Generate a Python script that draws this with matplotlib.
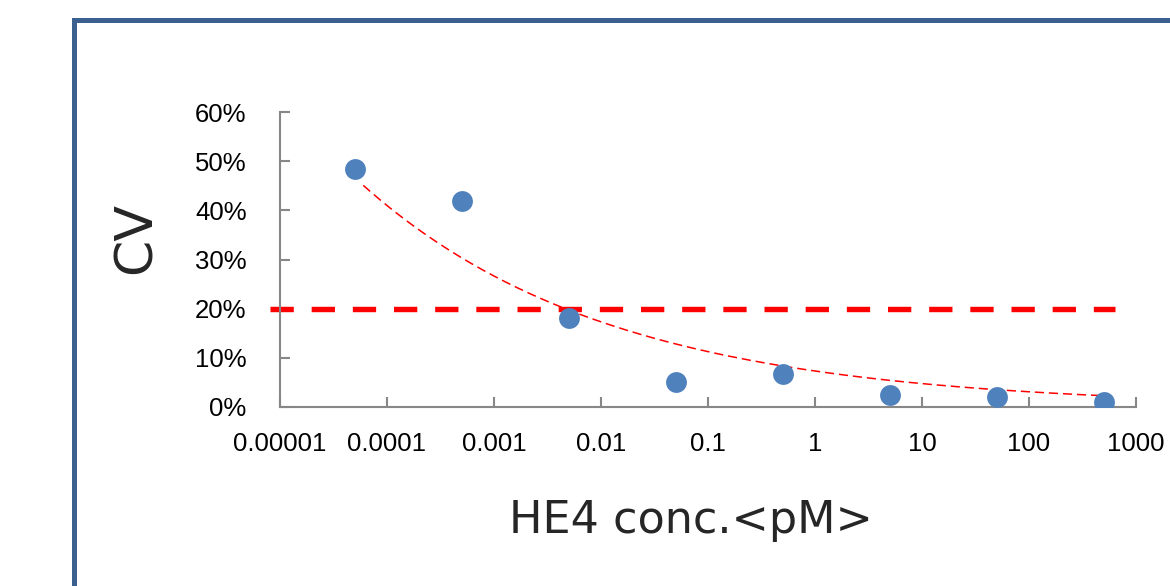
# Script recreating the HE4 CV-vs-concentration chart.
import numpy as np
import matplotlib.pyplot as plt
from matplotlib.lines import Line2D


# Concentrations of the dilution series (pM) and the measured CV of each.
conc = [0.00005, 0.0005, 0.005, 0.05, 0.5, 5, 50, 500]
cv = [0.484, 0.420, 0.181, 0.050, 0.067, 0.024, 0.021, 0.010]

# Power trendline: cv = coef * conc ** power.
trend_coef = 0.0732
trend_power = -0.187
trend_range = [6e-5, 570]

# The 20% acceptance limit and how far it is drawn.
limit_cv = 0.20
limit_range = [8.1e-6, 640]

# Tick positions and labels.
x_ticks = [0.00001, 0.0001, 0.001, 0.01, 0.1, 1, 10, 100, 1000]
x_labels = ["0.00001", "0.0001", "0.001", "0.01", "0.1", "1", "10", "100", "1000"]
y_ticks = [0, 0.1, 0.2, 0.3, 0.4, 0.5, 0.6]
y_labels = ["0%", "10%", "20%", "30%", "40%", "50%", "60%"]


fig = plt.figure(figsize=(11.7, 5.86), dpi=100)
ax = fig.add_axes([280 / 1170, 1 - 407 / 586, (1136 - 280) / 1170, (407 - 112) / 586])

grey = "#878787"

# Acceptance limit, drawn past the left edge of the axes as in the original.
ax.plot(limit_range, [limit_cv, limit_cv], color="#ff0000", linewidth=3.9,
        dashes=(4.3, 3.3), solid_capstyle="butt", dash_capstyle="butt",
        clip_on=False, zorder=2)

# The trendline.
trend_x = np.logspace(np.log10(trend_range[0]), np.log10(trend_range[1]), 200)
trend_y = trend_coef * trend_x ** trend_power
ax.plot(trend_x, trend_y, color="#ff0000", linewidth=1.1, dashes=(6, 3.2), zorder=3)

# The measured points.
ax.plot(conc, cv, linestyle="none", marker="o", markersize=15,
        color="#4f81bd", markeredgewidth=0, zorder=4)

ax.set_xscale("log")
ax.set_xlim(x_ticks[0], x_ticks[-1])
ax.set_ylim(0, 0.6)
ax.set_xticks(x_ticks)
ax.set_xticklabels(x_labels)
ax.set_yticks(y_ticks)
ax.set_yticklabels(y_labels)
ax.minorticks_off()

for side in ["top", "right"]:
    ax.spines[side].set_visible(False)
for side in ["left", "bottom"]:
    ax.spines[side].set_color(grey)
    ax.spines[side].set_linewidth(1.5)

ax.tick_params(axis="both", direction="in", length=7, width=1.5, color=grey)
ax.tick_params(axis="x", pad=18)
ax.tick_params(axis="y", pad=24)
for label in ax.get_xticklabels() + ax.get_yticklabels():
    label.set_family("Liberation Sans")
    label.set_fontsize(18.5)
    label.set_color("black")

# Axis titles placed in figure coordinates.
fig.text(137 / 1170, 1 - 238 / 586, "CV", rotation=90, fontsize=37.5,
         ha="center", va="center", color="#262626", family="DejaVu Sans")
fig.text(691 / 1170, 1 - 533 / 586, "HE4 conc.<pM>", fontsize=32,
         ha="center", va="baseline", color="#262626", family="DejaVu Sans")

# Blue frame of the slide, running off the right and bottom edges.
frame = Line2D([73.5 / 1170, 73.5 / 1170, 1.01], [-0.01, 1 - 20 / 586, 1 - 20 / 586],
               transform=fig.transFigure, color="#3b6090", linewidth=3.6,
               solid_joinstyle="miter")
fig.add_artist(frame)

fig.savefig("out.png", dpi=100)
